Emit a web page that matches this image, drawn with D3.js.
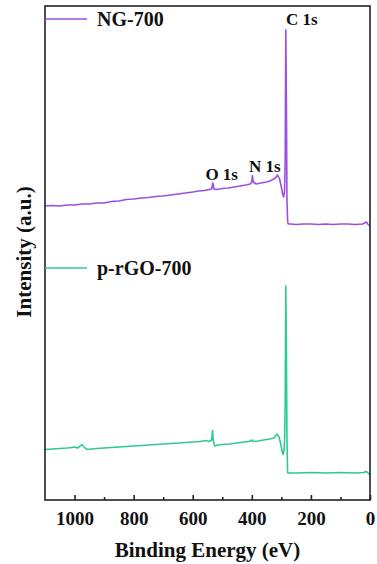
<!DOCTYPE html>
<html>
<head>
<meta charset="utf-8">
<script src="https://d3js.org/d3.v7.min.js"></script>
<style>
  body { margin: 0; background: #fff; }
  text { font-family: "Liberation Serif", "Times New Roman", serif; font-weight: bold; fill: #111; }
</style>
</head>
<body>
<div id="chart"></div>
<script>
// binding energy (eV) and intensity (a.u.)
var ngEnergy = [1100,1075,1050,1025,1000,975,950,925,900,875,850,825,800,775,750,725,700,675,650,625,600,580,560,545,536,532,528,520,500,480,460,440,420,405,400,398,395,385,370,350,335,320,313,306,300,295,292,289,287,285,283,281,279,277,270,250,225,200,175,150,125,100,75,50,25,15,12,8,4,0];
var ngIntensity = [294,294.5,294,295,295,296,296,297,297,298.5,299,300.5,301,302,302.5,303.5,304,305,306,307,308,309,309.5,310.5,311,317,311,310.5,311.5,312,313,314,315,316,318,324.5,318,316,317,318,319.5,322,325,321,313,305,303,310,340,470,400,300,280,276,276,275.5,276,276,275.5,276,275.5,276,276,275.5,276,277.5,278,276,275,274];

var rgoEnergy = [1100,1075,1050,1025,1010,1000,990,985,975,968,960,955,945,925,900,875,850,825,800,775,750,725,700,675,650,625,600,575,555,545,536,533,530,525,515,500,475,450,425,410,400,396,380,360,340,325,315,308,302,297,294,291,289,287,285,283,281,279,277,250,200,150,100,50,20,15,10,5,0];
var rgoIntensity = [50.5,51,51.5,52,52.5,53,52,53,55.5,53,51,50.5,51,51.5,52,52.5,53,53.5,54,54.5,55,55.5,56,56.5,57,57.5,58,58.5,59.5,58.5,60,69.5,58,54,55,55.5,56,57,58,58.5,60,58.5,59,60,61,62,66,63,56,48,45.5,50,60,100,214,150,60,28,27,27,27.5,27,27.5,27,27.5,28.5,28,26.5,25];

var seriesNames = ["NG-700", "p-rGO-700"];
var seriesColors = ["#9b4fe3", "#2ec995"];
var xTicks = [1000, 800, 600, 400, 200, 0];
var xMinorTicks = [900, 700, 500, 300, 100];

var peakLabels = ["O 1s", "N 1s", "C 1s"];
var peakEnergy = [502, 356, 284];
var peakIntensity = [320, 328, 475];

var width = 377, height = 564;
var margin = {left: 45, right: 7, top: 6, bottom: 64};

var svg = d3.select("#chart").append("svg")
  .attr("width", width)
  .attr("height", height);

var x = d3.scaleLinear().domain([1100, 0]).range([margin.left, width - margin.right]);
var y = d3.scaleLinear().domain([0, 494]).range([height - margin.bottom, margin.top]);

var line = d3.line()
  .x(function(d) { return x(d[0]); })
  .y(function(d) { return y(d[1]); });

var ngData = d3.zip(ngEnergy, ngIntensity);
var rgoData = d3.zip(rgoEnergy, rgoIntensity);

[ngData, rgoData].forEach(function(data, i) {
  svg.append("path")
    .datum(data)
    .attr("fill", "none")
    .attr("stroke", seriesColors[i])
    .attr("stroke-width", 1.6)
    .attr("stroke-linejoin", "round")
    .attr("d", line);
});

// frame
svg.append("rect")
  .attr("x", x(1100))
  .attr("y", y(494))
  .attr("width", x(0) - x(1100))
  .attr("height", y(0) - y(494))
  .attr("fill", "none")
  .attr("stroke", "#222")
  .attr("stroke-width", 1.6);

// bottom axis, ticks pointing inward
var axis = svg.append("g")
  .attr("transform", "translate(0," + y(0) + ")")
  .call(d3.axisBottom(x).tickValues(xTicks).tickSize(-5).tickPadding(12).tickFormat(d3.format("d")));
axis.select(".domain").remove();
axis.selectAll(".tick line").attr("stroke", "#222").attr("stroke-width", 1.6);
axis.selectAll(".tick text").style("font-size", "19px").attr("dy", "0.71em");

var minor = svg.append("g")
  .attr("transform", "translate(0," + y(0) + ")")
  .call(d3.axisBottom(x).tickValues(xMinorTicks).tickSize(-3).tickFormat(""));
minor.select(".domain").remove();
minor.selectAll(".tick line").attr("stroke", "#222").attr("stroke-width", 1.6);

svg.append("text")
  .attr("x", (x(1100) + x(0)) / 2)
  .attr("y", 557)
  .attr("text-anchor", "middle")
  .style("font-size", "21px")
  .text("Binding Energy (eV)");

svg.append("text")
  .attr("transform", "translate(31," + 252 + ") rotate(-90)")
  .attr("text-anchor", "middle")
  .style("font-size", "21px")
  .text("Intensity (a.u.)");

// legends
var legendY = [19, 268];
seriesNames.forEach(function(name, i) {
  svg.append("line")
    .attr("x1", x(1100)).attr("x2", 87)
    .attr("y1", legendY[i]).attr("y2", legendY[i])
    .attr("stroke", seriesColors[i])
    .attr("stroke-width", 1.6);
  svg.append("text")
    .attr("x", 97)
    .attr("y", legendY[i] + 7)
    .style("font-size", "20px")
    .text(name);
});

// peak labels
svg.selectAll(".peak")
  .data(peakLabels)
  .enter().append("text")
  .attr("class", "peak")
  .attr("x", function(d, i) { return x(peakEnergy[i]); })
  .attr("y", function(d, i) { return y(peakIntensity[i]); })
  .attr("text-anchor", function(d, i) { return i == 2 ? "start" : "middle"; })
  .style("font-size", "17px")
  .text(function(d) { return d; });
</script>
</body>
</html>
